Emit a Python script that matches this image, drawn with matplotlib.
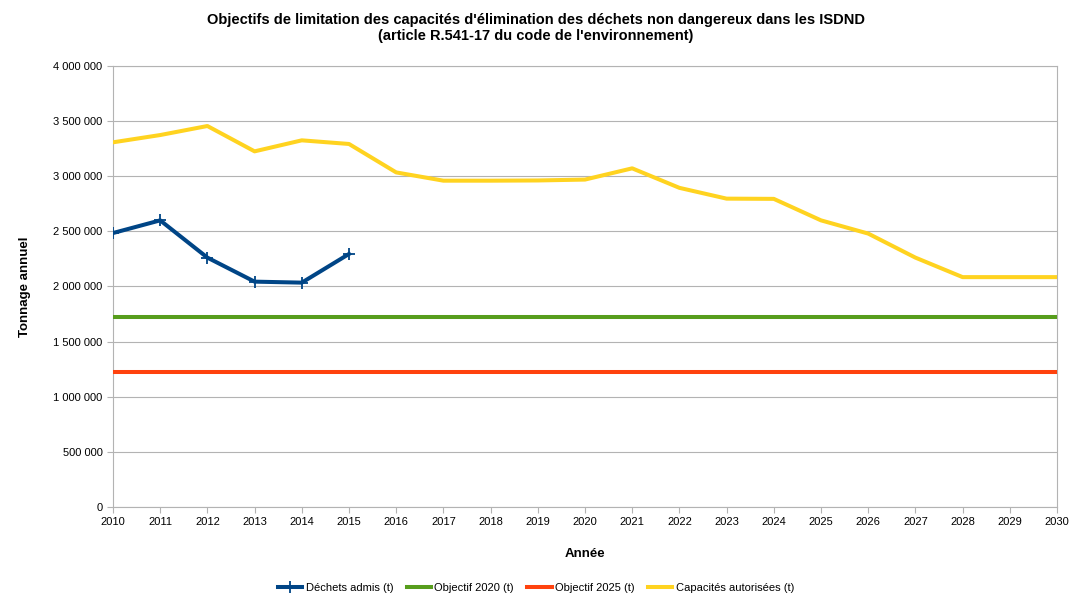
import matplotlib.pyplot as plt
from matplotlib.ticker import FuncFormatter, MultipleLocator

plt.rcParams['font.family'] = ['Liberation Sans', 'DejaVu Sans']

# Data
annees = list(range(2010, 2031))
annees_admis = [2010, 2011, 2012, 2013, 2014, 2015]
dechets_admis = [2485000, 2600000, 2262000, 2044000, 2035000, 2295000]
objectif_2020 = 1723000
objectif_2025 = 1224000
capacites = [3308000, 3374000, 3456000, 3226000, 3326000, 3293000, 3035000,
             2960000, 2960000, 2962000, 2970000, 3072000, 2895000, 2797000,
             2795000, 2600000, 2480000, 2262000, 2085000, 2085000, 2085000]

fig = plt.figure(figsize=(10.72, 5.95), dpi=100)
ax = fig.add_axes([0.1054, 0.148, 0.8806, 0.741])

ax.plot(annees_admis, dechets_admis, color="#004586", lw=2.9, marker="+",
        ms=8, mew=1.3, label="Déchets admis (t)", zorder=5)
ax.plot(annees, [objectif_2020] * len(annees), color="#579d1c", lw=2.9,
        label="Objectif 2020 (t)", zorder=4)
ax.plot(annees, [objectif_2025] * len(annees), color="#ff420e", lw=2.9,
        label="Objectif 2025 (t)", zorder=4)
ax.plot(annees, capacites, color="#ffd320", lw=2.9,
        label="Capacités autorisées (t)", zorder=4)

ax.set_xlim(2010, 2030)
ax.set_ylim(0, 4000000)
ax.set_xticks(annees)
ax.yaxis.set_major_locator(MultipleLocator(500000))
ax.yaxis.set_major_formatter(FuncFormatter(lambda v, p: f"{int(v):,}".replace(",", " ")))
ax.grid(axis="y", color="#b3b3b3", lw=0.8)
ax.set_axisbelow(True)
for s in ax.spines.values():
    s.set_color("#b3b3b3")
    s.set_linewidth(0.8)
ax.tick_params(axis="both", colors="#b3b3b3", labelcolor="black", labelsize=8,
               length=4, width=0.8)

ax.set_xlabel("Année", fontsize=9.5, fontweight="bold", labelpad=15)
ax.set_ylabel("Tonnage annuel", fontsize=9.5, fontweight="bold", labelpad=16)
fig.suptitle("Objectifs de limitation des capacités d'élimination des déchets non dangereux dans les ISDND\n"
             "(article R.541-17 du code de l'environnement)",
             fontsize=10.5, fontweight="bold", y=0.978, linespacing=1.15)

fig.legend(loc="lower center", ncol=4, frameon=False, fontsize=8,
           bbox_to_anchor=(0.5, -0.013), handlelength=2.2, columnspacing=1.2,
           handletextpad=0.3)

fig.savefig("out.png", dpi=100)
